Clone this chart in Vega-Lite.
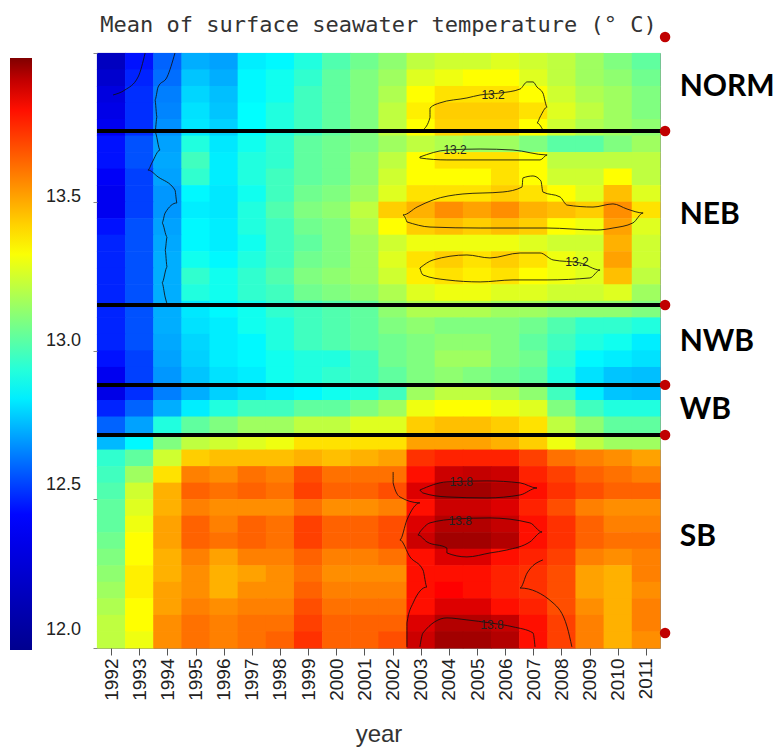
{
"$schema":"https://vega.github.io/schema/vega-lite/v6.json",
"width":563,"height":595,
"autosize":{"type":"none"},
"padding":{"left":97,"top":53,"right":121,"bottom":107},
"background":"white",
"config":{"view":{"stroke":"#8a8a8a","strokeWidth":1},"axis":{"grid":false}},
"title":{"text":"Mean of surface seawater temperature (° C)","font":"DejaVu Sans Mono","fontSize":22,"fontWeight":"normal","color":"#333333","frame":"group","anchor":"middle","offset":-5},
"datasets":{
"sst":[
{"year":1992,"row":0,"sst":12.13},{"year":1993,"row":0,"sst":12.42},{"year":1994,"row":0,"sst":12.56},{"year":1995,"row":0,"sst":12.69},{"year":1996,"row":0,"sst":12.67},{"year":1997,"row":0,"sst":12.80},{"year":1998,"row":0,"sst":12.82},{"year":1999,"row":0,"sst":12.89},{"year":2000,"row":0,"sst":12.98},{"year":2001,"row":0,"sst":13.04},{"year":2002,"row":0,"sst":13.10},{"year":2003,"row":0,"sst":13.19},{"year":2004,"row":0,"sst":13.22},{"year":2005,"row":0,"sst":13.22},{"year":2006,"row":0,"sst":13.25},{"year":2007,"row":0,"sst":13.22},{"year":2008,"row":0,"sst":13.19},{"year":2009,"row":0,"sst":13.13},{"year":2010,"row":0,"sst":13.07},{"year":2011,"row":0,"sst":13.01},
{"year":1992,"row":1,"sst":12.19},{"year":1993,"row":1,"sst":12.45},{"year":1994,"row":1,"sst":12.58},{"year":1995,"row":1,"sst":12.73},{"year":1996,"row":1,"sst":12.69},{"year":1997,"row":1,"sst":12.82},{"year":1998,"row":1,"sst":12.86},{"year":1999,"row":1,"sst":12.92},{"year":2000,"row":1,"sst":13.01},{"year":2001,"row":1,"sst":13.07},{"year":2002,"row":1,"sst":13.13},{"year":2003,"row":1,"sst":13.25},{"year":2004,"row":1,"sst":13.28},{"year":2005,"row":1,"sst":13.31},{"year":2006,"row":1,"sst":13.31},{"year":2007,"row":1,"sst":13.25},{"year":2008,"row":1,"sst":13.19},{"year":2009,"row":1,"sst":13.13},{"year":2010,"row":1,"sst":13.10},{"year":2011,"row":1,"sst":13.04},
{"year":1992,"row":2,"sst":12.26},{"year":1993,"row":2,"sst":12.47},{"year":1994,"row":2,"sst":12.61},{"year":1995,"row":2,"sst":12.76},{"year":1996,"row":2,"sst":12.72},{"year":1997,"row":2,"sst":12.82},{"year":1998,"row":2,"sst":12.86},{"year":1999,"row":2,"sst":12.95},{"year":2000,"row":2,"sst":13.01},{"year":2001,"row":2,"sst":13.07},{"year":2002,"row":2,"sst":13.16},{"year":2003,"row":2,"sst":13.31},{"year":2004,"row":2,"sst":13.37},{"year":2005,"row":2,"sst":13.37},{"year":2006,"row":2,"sst":13.37},{"year":2007,"row":2,"sst":13.31},{"year":2008,"row":2,"sst":13.22},{"year":2009,"row":2,"sst":13.16},{"year":2010,"row":2,"sst":13.13},{"year":2011,"row":2,"sst":13.07},
{"year":1992,"row":3,"sst":12.29},{"year":1993,"row":3,"sst":12.47},{"year":1994,"row":3,"sst":12.62},{"year":1995,"row":3,"sst":12.78},{"year":1996,"row":3,"sst":12.73},{"year":1997,"row":3,"sst":12.83},{"year":1998,"row":3,"sst":12.89},{"year":1999,"row":3,"sst":12.95},{"year":2000,"row":3,"sst":13.01},{"year":2001,"row":3,"sst":13.07},{"year":2002,"row":3,"sst":13.19},{"year":2003,"row":3,"sst":13.34},{"year":2004,"row":3,"sst":13.41},{"year":2005,"row":3,"sst":13.41},{"year":2006,"row":3,"sst":13.41},{"year":2007,"row":3,"sst":13.37},{"year":2008,"row":3,"sst":13.25},{"year":2009,"row":3,"sst":13.19},{"year":2010,"row":3,"sst":13.13},{"year":2011,"row":3,"sst":13.07},
{"year":1992,"row":4,"sst":12.33},{"year":1993,"row":4,"sst":12.47},{"year":1994,"row":4,"sst":12.64},{"year":1995,"row":4,"sst":12.79},{"year":1996,"row":4,"sst":12.75},{"year":1997,"row":4,"sst":12.83},{"year":1998,"row":4,"sst":12.89},{"year":1999,"row":4,"sst":12.95},{"year":2000,"row":4,"sst":13.01},{"year":2001,"row":4,"sst":13.07},{"year":2002,"row":4,"sst":13.19},{"year":2003,"row":4,"sst":13.31},{"year":2004,"row":4,"sst":13.40},{"year":2005,"row":4,"sst":13.40},{"year":2006,"row":4,"sst":13.40},{"year":2007,"row":4,"sst":13.31},{"year":2008,"row":4,"sst":13.22},{"year":2009,"row":4,"sst":13.16},{"year":2010,"row":4,"sst":13.13},{"year":2011,"row":4,"sst":13.10},
{"year":1992,"row":5,"sst":12.42},{"year":1993,"row":5,"sst":12.53},{"year":1994,"row":5,"sst":12.67},{"year":1995,"row":5,"sst":12.89},{"year":1996,"row":5,"sst":12.79},{"year":1997,"row":5,"sst":12.86},{"year":1998,"row":5,"sst":12.92},{"year":1999,"row":5,"sst":13.01},{"year":2000,"row":5,"sst":13.04},{"year":2001,"row":5,"sst":13.07},{"year":2002,"row":5,"sst":13.13},{"year":2003,"row":5,"sst":13.19},{"year":2004,"row":5,"sst":13.16},{"year":2005,"row":5,"sst":13.13},{"year":2006,"row":5,"sst":13.13},{"year":2007,"row":5,"sst":13.07},{"year":2008,"row":5,"sst":13.00},{"year":2009,"row":5,"sst":13.00},{"year":2010,"row":5,"sst":13.07},{"year":2011,"row":5,"sst":13.13},
{"year":1992,"row":6,"sst":12.42},{"year":1993,"row":6,"sst":12.53},{"year":1994,"row":6,"sst":12.68},{"year":1995,"row":6,"sst":12.95},{"year":1996,"row":6,"sst":12.80},{"year":1997,"row":6,"sst":12.89},{"year":1998,"row":6,"sst":12.92},{"year":1999,"row":6,"sst":13.01},{"year":2000,"row":6,"sst":13.04},{"year":2001,"row":6,"sst":13.10},{"year":2002,"row":6,"sst":13.19},{"year":2003,"row":6,"sst":13.31},{"year":2004,"row":6,"sst":13.37},{"year":2005,"row":6,"sst":13.37},{"year":2006,"row":6,"sst":13.37},{"year":2007,"row":6,"sst":13.31},{"year":2008,"row":6,"sst":13.19},{"year":2009,"row":6,"sst":13.19},{"year":2010,"row":6,"sst":13.19},{"year":2011,"row":6,"sst":13.19},
{"year":1992,"row":7,"sst":12.36},{"year":1993,"row":7,"sst":12.50},{"year":1994,"row":7,"sst":12.67},{"year":1995,"row":7,"sst":12.92},{"year":1996,"row":7,"sst":12.80},{"year":1997,"row":7,"sst":12.89},{"year":1998,"row":7,"sst":12.95},{"year":1999,"row":7,"sst":13.01},{"year":2000,"row":7,"sst":13.04},{"year":2001,"row":7,"sst":13.10},{"year":2002,"row":7,"sst":13.22},{"year":2003,"row":7,"sst":13.31},{"year":2004,"row":7,"sst":13.31},{"year":2005,"row":7,"sst":13.31},{"year":2006,"row":7,"sst":13.37},{"year":2007,"row":7,"sst":13.31},{"year":2008,"row":7,"sst":13.22},{"year":2009,"row":7,"sst":13.22},{"year":2010,"row":7,"sst":13.31},{"year":2011,"row":7,"sst":13.19},
{"year":1992,"row":8,"sst":12.33},{"year":1993,"row":8,"sst":12.50},{"year":1994,"row":8,"sst":12.65},{"year":1995,"row":8,"sst":12.82},{"year":1996,"row":8,"sst":12.79},{"year":1997,"row":8,"sst":12.86},{"year":1998,"row":8,"sst":12.95},{"year":1999,"row":8,"sst":13.04},{"year":2000,"row":8,"sst":13.07},{"year":2001,"row":8,"sst":13.13},{"year":2002,"row":8,"sst":13.25},{"year":2003,"row":8,"sst":13.37},{"year":2004,"row":8,"sst":13.37},{"year":2005,"row":8,"sst":13.37},{"year":2006,"row":8,"sst":13.41},{"year":2007,"row":8,"sst":13.37},{"year":2008,"row":8,"sst":13.31},{"year":2009,"row":8,"sst":13.25},{"year":2010,"row":8,"sst":13.44},{"year":2011,"row":8,"sst":13.25},
{"year":1992,"row":9,"sst":12.33},{"year":1993,"row":9,"sst":12.50},{"year":1994,"row":9,"sst":12.65},{"year":1995,"row":9,"sst":12.80},{"year":1996,"row":9,"sst":12.79},{"year":1997,"row":9,"sst":12.89},{"year":1998,"row":9,"sst":12.98},{"year":1999,"row":9,"sst":13.07},{"year":2000,"row":9,"sst":13.10},{"year":2001,"row":9,"sst":13.19},{"year":2002,"row":9,"sst":13.41},{"year":2003,"row":9,"sst":13.47},{"year":2004,"row":9,"sst":13.54},{"year":2005,"row":9,"sst":13.50},{"year":2006,"row":9,"sst":13.54},{"year":2007,"row":9,"sst":13.47},{"year":2008,"row":9,"sst":13.44},{"year":2009,"row":9,"sst":13.41},{"year":2010,"row":9,"sst":13.54},{"year":2011,"row":9,"sst":13.37},
{"year":1992,"row":10,"sst":12.42},{"year":1993,"row":10,"sst":12.53},{"year":1994,"row":10,"sst":12.67},{"year":1995,"row":10,"sst":12.82},{"year":1996,"row":10,"sst":12.80},{"year":1997,"row":10,"sst":12.89},{"year":1998,"row":10,"sst":12.95},{"year":1999,"row":10,"sst":13.04},{"year":2000,"row":10,"sst":13.07},{"year":2001,"row":10,"sst":13.16},{"year":2002,"row":10,"sst":13.31},{"year":2003,"row":10,"sst":13.41},{"year":2004,"row":10,"sst":13.44},{"year":2005,"row":10,"sst":13.41},{"year":2006,"row":10,"sst":13.44},{"year":2007,"row":10,"sst":13.41},{"year":2008,"row":10,"sst":13.31},{"year":2009,"row":10,"sst":13.28},{"year":2010,"row":10,"sst":13.50},{"year":2011,"row":10,"sst":13.25},
{"year":1992,"row":11,"sst":12.45},{"year":1993,"row":11,"sst":12.53},{"year":1994,"row":11,"sst":12.68},{"year":1995,"row":11,"sst":12.82},{"year":1996,"row":11,"sst":12.80},{"year":1997,"row":11,"sst":12.86},{"year":1998,"row":11,"sst":12.95},{"year":1999,"row":11,"sst":13.01},{"year":2000,"row":11,"sst":13.07},{"year":2001,"row":11,"sst":13.13},{"year":2002,"row":11,"sst":13.22},{"year":2003,"row":11,"sst":13.28},{"year":2004,"row":11,"sst":13.28},{"year":2005,"row":11,"sst":13.28},{"year":2006,"row":11,"sst":13.28},{"year":2007,"row":11,"sst":13.25},{"year":2008,"row":11,"sst":13.22},{"year":2009,"row":11,"sst":13.22},{"year":2010,"row":11,"sst":13.47},{"year":2011,"row":11,"sst":13.22},
{"year":1992,"row":12,"sst":12.45},{"year":1993,"row":12,"sst":12.53},{"year":1994,"row":12,"sst":12.69},{"year":1995,"row":12,"sst":12.86},{"year":1996,"row":12,"sst":12.82},{"year":1997,"row":12,"sst":12.89},{"year":1998,"row":12,"sst":12.95},{"year":1999,"row":12,"sst":13.04},{"year":2000,"row":12,"sst":13.07},{"year":2001,"row":12,"sst":13.13},{"year":2002,"row":12,"sst":13.25},{"year":2003,"row":12,"sst":13.37},{"year":2004,"row":12,"sst":13.41},{"year":2005,"row":12,"sst":13.37},{"year":2006,"row":12,"sst":13.41},{"year":2007,"row":12,"sst":13.37},{"year":2008,"row":12,"sst":13.28},{"year":2009,"row":12,"sst":13.25},{"year":2010,"row":12,"sst":13.50},{"year":2011,"row":12,"sst":13.22},
{"year":1992,"row":13,"sst":12.45},{"year":1993,"row":13,"sst":12.53},{"year":1994,"row":13,"sst":12.69},{"year":1995,"row":13,"sst":12.92},{"year":1996,"row":13,"sst":12.86},{"year":1997,"row":13,"sst":12.92},{"year":1998,"row":13,"sst":12.98},{"year":1999,"row":13,"sst":13.07},{"year":2000,"row":13,"sst":13.10},{"year":2001,"row":13,"sst":13.13},{"year":2002,"row":13,"sst":13.22},{"year":2003,"row":13,"sst":13.34},{"year":2004,"row":13,"sst":13.37},{"year":2005,"row":13,"sst":13.34},{"year":2006,"row":13,"sst":13.37},{"year":2007,"row":13,"sst":13.31},{"year":2008,"row":13,"sst":13.28},{"year":2009,"row":13,"sst":13.25},{"year":2010,"row":13,"sst":13.44},{"year":2011,"row":13,"sst":13.19},
{"year":1992,"row":14,"sst":12.45},{"year":1993,"row":14,"sst":12.53},{"year":1994,"row":14,"sst":12.69},{"year":1995,"row":14,"sst":12.89},{"year":1996,"row":14,"sst":12.86},{"year":1997,"row":14,"sst":12.92},{"year":1998,"row":14,"sst":12.95},{"year":1999,"row":14,"sst":13.04},{"year":2000,"row":14,"sst":13.07},{"year":2001,"row":14,"sst":13.10},{"year":2002,"row":14,"sst":13.16},{"year":2003,"row":14,"sst":13.25},{"year":2004,"row":14,"sst":13.28},{"year":2005,"row":14,"sst":13.28},{"year":2006,"row":14,"sst":13.25},{"year":2007,"row":14,"sst":13.25},{"year":2008,"row":14,"sst":13.22},{"year":2009,"row":14,"sst":13.22},{"year":2010,"row":14,"sst":13.25},{"year":2011,"row":14,"sst":13.13},
{"year":1992,"row":15,"sst":12.45},{"year":1993,"row":15,"sst":12.53},{"year":1994,"row":15,"sst":12.69},{"year":1995,"row":15,"sst":12.79},{"year":1996,"row":15,"sst":12.82},{"year":1997,"row":15,"sst":12.86},{"year":1998,"row":15,"sst":12.92},{"year":1999,"row":15,"sst":12.95},{"year":2000,"row":15,"sst":12.98},{"year":2001,"row":15,"sst":13.01},{"year":2002,"row":15,"sst":13.10},{"year":2003,"row":15,"sst":13.16},{"year":2004,"row":15,"sst":13.16},{"year":2005,"row":15,"sst":13.16},{"year":2006,"row":15,"sst":13.13},{"year":2007,"row":15,"sst":13.13},{"year":2008,"row":15,"sst":13.10},{"year":2009,"row":15,"sst":13.10},{"year":2010,"row":15,"sst":13.10},{"year":2011,"row":15,"sst":13.07},
{"year":1992,"row":16,"sst":12.45},{"year":1993,"row":16,"sst":12.53},{"year":1994,"row":16,"sst":12.69},{"year":1995,"row":16,"sst":12.78},{"year":1996,"row":16,"sst":12.80},{"year":1997,"row":16,"sst":12.86},{"year":1998,"row":16,"sst":12.89},{"year":1999,"row":16,"sst":12.95},{"year":2000,"row":16,"sst":12.98},{"year":2001,"row":16,"sst":13.01},{"year":2002,"row":16,"sst":13.07},{"year":2003,"row":16,"sst":13.10},{"year":2004,"row":16,"sst":13.07},{"year":2005,"row":16,"sst":13.07},{"year":2006,"row":16,"sst":13.07},{"year":2007,"row":16,"sst":13.04},{"year":2008,"row":16,"sst":12.98},{"year":2009,"row":16,"sst":12.92},{"year":2010,"row":16,"sst":12.92},{"year":2011,"row":16,"sst":12.89},
{"year":1992,"row":17,"sst":12.45},{"year":1993,"row":17,"sst":12.53},{"year":1994,"row":17,"sst":12.68},{"year":1995,"row":17,"sst":12.76},{"year":1996,"row":17,"sst":12.80},{"year":1997,"row":17,"sst":12.82},{"year":1998,"row":17,"sst":12.89},{"year":1999,"row":17,"sst":12.95},{"year":2000,"row":17,"sst":12.98},{"year":2001,"row":17,"sst":13.01},{"year":2002,"row":17,"sst":13.04},{"year":2003,"row":17,"sst":13.07},{"year":2004,"row":17,"sst":13.10},{"year":2005,"row":17,"sst":13.10},{"year":2006,"row":17,"sst":13.07},{"year":2007,"row":17,"sst":13.01},{"year":2008,"row":17,"sst":12.95},{"year":2009,"row":17,"sst":12.89},{"year":2010,"row":17,"sst":12.86},{"year":2011,"row":17,"sst":12.80},
{"year":1992,"row":18,"sst":12.42},{"year":1993,"row":18,"sst":12.50},{"year":1994,"row":18,"sst":12.67},{"year":1995,"row":18,"sst":12.75},{"year":1996,"row":18,"sst":12.80},{"year":1997,"row":18,"sst":12.82},{"year":1998,"row":18,"sst":12.86},{"year":1999,"row":18,"sst":12.89},{"year":2000,"row":18,"sst":12.89},{"year":2001,"row":18,"sst":12.95},{"year":2002,"row":18,"sst":13.04},{"year":2003,"row":18,"sst":13.07},{"year":2004,"row":18,"sst":13.13},{"year":2005,"row":18,"sst":13.13},{"year":2006,"row":18,"sst":13.07},{"year":2007,"row":18,"sst":13.04},{"year":2008,"row":18,"sst":12.92},{"year":2009,"row":18,"sst":12.82},{"year":2010,"row":18,"sst":12.80},{"year":2011,"row":18,"sst":12.78},
{"year":1992,"row":19,"sst":12.33},{"year":1993,"row":19,"sst":12.50},{"year":1994,"row":19,"sst":12.65},{"year":1995,"row":19,"sst":12.73},{"year":1996,"row":19,"sst":12.78},{"year":1997,"row":19,"sst":12.80},{"year":1998,"row":19,"sst":12.86},{"year":1999,"row":19,"sst":12.89},{"year":2000,"row":19,"sst":12.92},{"year":2001,"row":19,"sst":12.95},{"year":2002,"row":19,"sst":13.01},{"year":2003,"row":19,"sst":13.07},{"year":2004,"row":19,"sst":13.10},{"year":2005,"row":19,"sst":13.07},{"year":2006,"row":19,"sst":13.04},{"year":2007,"row":19,"sst":13.01},{"year":2008,"row":19,"sst":12.89},{"year":2009,"row":19,"sst":12.78},{"year":2010,"row":19,"sst":12.73},{"year":2011,"row":19,"sst":12.72},
{"year":1992,"row":20,"sst":12.29},{"year":1993,"row":20,"sst":12.47},{"year":1994,"row":20,"sst":12.61},{"year":1995,"row":20,"sst":12.69},{"year":1996,"row":20,"sst":12.75},{"year":1997,"row":20,"sst":12.78},{"year":1998,"row":20,"sst":12.80},{"year":1999,"row":20,"sst":12.82},{"year":2000,"row":20,"sst":12.86},{"year":2001,"row":20,"sst":12.89},{"year":2002,"row":20,"sst":12.95},{"year":2003,"row":20,"sst":13.13},{"year":2004,"row":20,"sst":13.19},{"year":2005,"row":20,"sst":13.19},{"year":2006,"row":20,"sst":13.16},{"year":2007,"row":20,"sst":13.10},{"year":2008,"row":20,"sst":12.95},{"year":2009,"row":20,"sst":12.80},{"year":2010,"row":20,"sst":12.73},{"year":2011,"row":20,"sst":12.72},
{"year":1992,"row":21,"sst":12.45},{"year":1993,"row":21,"sst":12.56},{"year":1994,"row":21,"sst":12.69},{"year":1995,"row":21,"sst":12.80},{"year":1996,"row":21,"sst":12.89},{"year":1997,"row":21,"sst":12.95},{"year":1998,"row":21,"sst":12.95},{"year":1999,"row":21,"sst":13.01},{"year":2000,"row":21,"sst":13.01},{"year":2001,"row":21,"sst":13.07},{"year":2002,"row":21,"sst":13.13},{"year":2003,"row":21,"sst":13.28},{"year":2004,"row":21,"sst":13.31},{"year":2005,"row":21,"sst":13.31},{"year":2006,"row":21,"sst":13.28},{"year":2007,"row":21,"sst":13.25},{"year":2008,"row":21,"sst":13.07},{"year":2009,"row":21,"sst":12.95},{"year":2010,"row":21,"sst":12.89},{"year":2011,"row":21,"sst":12.89},
{"year":1992,"row":22,"sst":12.56},{"year":1993,"row":22,"sst":12.67},{"year":1994,"row":22,"sst":12.89},{"year":1995,"row":22,"sst":13.01},{"year":1996,"row":22,"sst":13.07},{"year":1997,"row":22,"sst":13.13},{"year":1998,"row":22,"sst":13.13},{"year":1999,"row":22,"sst":13.19},{"year":2000,"row":22,"sst":13.19},{"year":2001,"row":22,"sst":13.25},{"year":2002,"row":22,"sst":13.25},{"year":2003,"row":22,"sst":13.41},{"year":2004,"row":22,"sst":13.44},{"year":2005,"row":22,"sst":13.44},{"year":2006,"row":22,"sst":13.41},{"year":2007,"row":22,"sst":13.37},{"year":2008,"row":22,"sst":13.19},{"year":2009,"row":22,"sst":13.10},{"year":2010,"row":22,"sst":13.01},{"year":2011,"row":22,"sst":13.01},
{"year":1992,"row":23,"sst":12.71},{"year":1993,"row":23,"sst":12.82},{"year":1994,"row":23,"sst":13.07},{"year":1995,"row":23,"sst":13.19},{"year":1996,"row":23,"sst":13.22},{"year":1997,"row":23,"sst":13.25},{"year":1998,"row":23,"sst":13.28},{"year":1999,"row":23,"sst":13.37},{"year":2000,"row":23,"sst":13.37},{"year":2001,"row":23,"sst":13.37},{"year":2002,"row":23,"sst":13.37},{"year":2003,"row":23,"sst":13.50},{"year":2004,"row":23,"sst":13.50},{"year":2005,"row":23,"sst":13.50},{"year":2006,"row":23,"sst":13.47},{"year":2007,"row":23,"sst":13.41},{"year":2008,"row":23,"sst":13.28},{"year":2009,"row":23,"sst":13.19},{"year":2010,"row":23,"sst":13.13},{"year":2011,"row":23,"sst":13.13},
{"year":1992,"row":24,"sst":12.92},{"year":1993,"row":24,"sst":13.01},{"year":1994,"row":24,"sst":13.22},{"year":1995,"row":24,"sst":13.41},{"year":1996,"row":24,"sst":13.44},{"year":1997,"row":24,"sst":13.44},{"year":1998,"row":24,"sst":13.44},{"year":1999,"row":24,"sst":13.47},{"year":2000,"row":24,"sst":13.44},{"year":2001,"row":24,"sst":13.47},{"year":2002,"row":24,"sst":13.50},{"year":2003,"row":24,"sst":13.73},{"year":2004,"row":24,"sst":13.76},{"year":2005,"row":24,"sst":13.76},{"year":2006,"row":24,"sst":13.76},{"year":2007,"row":24,"sst":13.70},{"year":2008,"row":24,"sst":13.60},{"year":2009,"row":24,"sst":13.57},{"year":2010,"row":24,"sst":13.54},{"year":2011,"row":24,"sst":13.50},
{"year":1992,"row":25,"sst":12.95},{"year":1993,"row":25,"sst":13.13},{"year":1994,"row":25,"sst":13.37},{"year":1995,"row":25,"sst":13.57},{"year":1996,"row":25,"sst":13.54},{"year":1997,"row":25,"sst":13.60},{"year":1998,"row":25,"sst":13.57},{"year":1999,"row":25,"sst":13.67},{"year":2000,"row":25,"sst":13.60},{"year":2001,"row":25,"sst":13.60},{"year":2002,"row":25,"sst":13.60},{"year":2003,"row":25,"sst":13.80},{"year":2004,"row":25,"sst":13.89},{"year":2005,"row":25,"sst":13.90},{"year":2006,"row":25,"sst":13.89},{"year":2007,"row":25,"sst":13.76},{"year":2008,"row":25,"sst":13.70},{"year":2009,"row":25,"sst":13.63},{"year":2010,"row":25,"sst":13.60},{"year":2011,"row":25,"sst":13.57},
{"year":1992,"row":26,"sst":12.98},{"year":1993,"row":26,"sst":13.22},{"year":1994,"row":26,"sst":13.47},{"year":1995,"row":26,"sst":13.63},{"year":1996,"row":26,"sst":13.60},{"year":1997,"row":26,"sst":13.63},{"year":1998,"row":26,"sst":13.60},{"year":1999,"row":26,"sst":13.70},{"year":2000,"row":26,"sst":13.63},{"year":2001,"row":26,"sst":13.63},{"year":2002,"row":26,"sst":13.67},{"year":2003,"row":26,"sst":13.87},{"year":2004,"row":26,"sst":13.94},{"year":2005,"row":26,"sst":13.94},{"year":2006,"row":26,"sst":13.92},{"year":2007,"row":26,"sst":13.80},{"year":2008,"row":26,"sst":13.73},{"year":2009,"row":26,"sst":13.67},{"year":2010,"row":26,"sst":13.63},{"year":2011,"row":26,"sst":13.63},
{"year":1992,"row":27,"sst":13.01},{"year":1993,"row":27,"sst":13.25},{"year":1994,"row":27,"sst":13.47},{"year":1995,"row":27,"sst":13.57},{"year":1996,"row":27,"sst":13.54},{"year":1997,"row":27,"sst":13.54},{"year":1998,"row":27,"sst":13.54},{"year":1999,"row":27,"sst":13.60},{"year":2000,"row":27,"sst":13.54},{"year":2001,"row":27,"sst":13.54},{"year":2002,"row":27,"sst":13.57},{"year":2003,"row":27,"sst":13.80},{"year":2004,"row":27,"sst":13.89},{"year":2005,"row":27,"sst":13.89},{"year":2006,"row":27,"sst":13.87},{"year":2007,"row":27,"sst":13.76},{"year":2008,"row":27,"sst":13.67},{"year":2009,"row":27,"sst":13.57},{"year":2010,"row":27,"sst":13.54},{"year":2011,"row":27,"sst":13.54},
{"year":1992,"row":28,"sst":13.01},{"year":1993,"row":28,"sst":13.28},{"year":1994,"row":28,"sst":13.50},{"year":1995,"row":28,"sst":13.63},{"year":1996,"row":28,"sst":13.57},{"year":1997,"row":28,"sst":13.63},{"year":1998,"row":28,"sst":13.60},{"year":1999,"row":28,"sst":13.70},{"year":2000,"row":28,"sst":13.63},{"year":2001,"row":28,"sst":13.63},{"year":2002,"row":28,"sst":13.67},{"year":2003,"row":28,"sst":13.87},{"year":2004,"row":28,"sst":13.92},{"year":2005,"row":28,"sst":13.92},{"year":2006,"row":28,"sst":13.90},{"year":2007,"row":28,"sst":13.80},{"year":2008,"row":28,"sst":13.73},{"year":2009,"row":28,"sst":13.63},{"year":2010,"row":28,"sst":13.57},{"year":2011,"row":28,"sst":13.57},
{"year":1992,"row":29,"sst":13.04},{"year":1993,"row":29,"sst":13.31},{"year":1994,"row":29,"sst":13.50},{"year":1995,"row":29,"sst":13.63},{"year":1996,"row":29,"sst":13.60},{"year":1997,"row":29,"sst":13.63},{"year":1998,"row":29,"sst":13.60},{"year":1999,"row":29,"sst":13.70},{"year":2000,"row":29,"sst":13.63},{"year":2001,"row":29,"sst":13.63},{"year":2002,"row":29,"sst":13.67},{"year":2003,"row":29,"sst":13.89},{"year":2004,"row":29,"sst":13.94},{"year":2005,"row":29,"sst":13.94},{"year":2006,"row":29,"sst":13.92},{"year":2007,"row":29,"sst":13.80},{"year":2008,"row":29,"sst":13.73},{"year":2009,"row":29,"sst":13.63},{"year":2010,"row":29,"sst":13.60},{"year":2011,"row":29,"sst":13.60},
{"year":1992,"row":30,"sst":13.07},{"year":1993,"row":30,"sst":13.31},{"year":1994,"row":30,"sst":13.47},{"year":1995,"row":30,"sst":13.57},{"year":1996,"row":30,"sst":13.50},{"year":1997,"row":30,"sst":13.57},{"year":1998,"row":30,"sst":13.57},{"year":1999,"row":30,"sst":13.63},{"year":2000,"row":30,"sst":13.57},{"year":2001,"row":30,"sst":13.57},{"year":2002,"row":30,"sst":13.60},{"year":2003,"row":30,"sst":13.80},{"year":2004,"row":30,"sst":13.87},{"year":2005,"row":30,"sst":13.87},{"year":2006,"row":30,"sst":13.80},{"year":2007,"row":30,"sst":13.76},{"year":2008,"row":30,"sst":13.70},{"year":2009,"row":30,"sst":13.57},{"year":2010,"row":30,"sst":13.54},{"year":2011,"row":30,"sst":13.57},
{"year":1992,"row":31,"sst":13.10},{"year":1993,"row":31,"sst":13.34},{"year":1994,"row":31,"sst":13.47},{"year":1995,"row":31,"sst":13.54},{"year":1996,"row":31,"sst":13.47},{"year":1997,"row":31,"sst":13.50},{"year":1998,"row":31,"sst":13.54},{"year":1999,"row":31,"sst":13.60},{"year":2000,"row":31,"sst":13.54},{"year":2001,"row":31,"sst":13.54},{"year":2002,"row":31,"sst":13.54},{"year":2003,"row":31,"sst":13.80},{"year":2004,"row":31,"sst":13.80},{"year":2005,"row":31,"sst":13.80},{"year":2006,"row":31,"sst":13.76},{"year":2007,"row":31,"sst":13.73},{"year":2008,"row":31,"sst":13.67},{"year":2009,"row":31,"sst":13.50},{"year":2010,"row":31,"sst":13.47},{"year":2011,"row":31,"sst":13.57},
{"year":1992,"row":32,"sst":13.13},{"year":1993,"row":32,"sst":13.34},{"year":1994,"row":32,"sst":13.50},{"year":1995,"row":32,"sst":13.54},{"year":1996,"row":32,"sst":13.47},{"year":1997,"row":32,"sst":13.54},{"year":1998,"row":32,"sst":13.54},{"year":1999,"row":32,"sst":13.63},{"year":2000,"row":32,"sst":13.57},{"year":2001,"row":32,"sst":13.57},{"year":2002,"row":32,"sst":13.57},{"year":2003,"row":32,"sst":13.80},{"year":2004,"row":32,"sst":13.83},{"year":2005,"row":32,"sst":13.80},{"year":2006,"row":32,"sst":13.76},{"year":2007,"row":32,"sst":13.73},{"year":2008,"row":32,"sst":13.67},{"year":2009,"row":32,"sst":13.50},{"year":2010,"row":32,"sst":13.47},{"year":2011,"row":32,"sst":13.54},
{"year":1992,"row":33,"sst":13.16},{"year":1993,"row":33,"sst":13.31},{"year":1994,"row":33,"sst":13.50},{"year":1995,"row":33,"sst":13.57},{"year":1996,"row":33,"sst":13.54},{"year":1997,"row":33,"sst":13.57},{"year":1998,"row":33,"sst":13.57},{"year":1999,"row":33,"sst":13.67},{"year":2000,"row":33,"sst":13.60},{"year":2001,"row":33,"sst":13.60},{"year":2002,"row":33,"sst":13.60},{"year":2003,"row":33,"sst":13.80},{"year":2004,"row":33,"sst":13.87},{"year":2005,"row":33,"sst":13.87},{"year":2006,"row":33,"sst":13.80},{"year":2007,"row":33,"sst":13.76},{"year":2008,"row":33,"sst":13.67},{"year":2009,"row":33,"sst":13.54},{"year":2010,"row":33,"sst":13.47},{"year":2011,"row":33,"sst":13.57},
{"year":1992,"row":34,"sst":13.19},{"year":1993,"row":34,"sst":13.31},{"year":1994,"row":34,"sst":13.54},{"year":1995,"row":34,"sst":13.60},{"year":1996,"row":34,"sst":13.57},{"year":1997,"row":34,"sst":13.60},{"year":1998,"row":34,"sst":13.60},{"year":1999,"row":34,"sst":13.70},{"year":2000,"row":34,"sst":13.63},{"year":2001,"row":34,"sst":13.63},{"year":2002,"row":34,"sst":13.63},{"year":2003,"row":34,"sst":13.87},{"year":2004,"row":34,"sst":13.92},{"year":2005,"row":34,"sst":13.92},{"year":2006,"row":34,"sst":13.90},{"year":2007,"row":34,"sst":13.80},{"year":2008,"row":34,"sst":13.70},{"year":2009,"row":34,"sst":13.57},{"year":2010,"row":34,"sst":13.47},{"year":2011,"row":34,"sst":13.57},
{"year":1992,"row":35,"sst":13.19},{"year":1993,"row":35,"sst":13.28},{"year":1994,"row":35,"sst":13.54},{"year":1995,"row":35,"sst":13.60},{"year":1996,"row":35,"sst":13.57},{"year":1997,"row":35,"sst":13.60},{"year":1998,"row":35,"sst":13.63},{"year":1999,"row":35,"sst":13.73},{"year":2000,"row":35,"sst":13.63},{"year":2001,"row":35,"sst":13.63},{"year":2002,"row":35,"sst":13.67},{"year":2003,"row":35,"sst":13.89},{"year":2004,"row":35,"sst":13.94},{"year":2005,"row":35,"sst":13.94},{"year":2006,"row":35,"sst":13.92},{"year":2007,"row":35,"sst":13.80},{"year":2008,"row":35,"sst":13.70},{"year":2009,"row":35,"sst":13.57},{"year":2010,"row":35,"sst":13.47},{"year":2011,"row":35,"sst":13.54}
],
"contours":[
{"id":"a","i":0,"yr":2003.47,"pos":26.44},{"id":"a","i":1,"yr":2004.43,"pos":25.95},{"id":"a","i":2,"yr":2005.85,"pos":25.89},{"id":"a","i":3,"yr":2007.03,"pos":26.01},{"id":"a","i":4,"yr":2007.63,"pos":26.32},{"id":"a","i":5,"yr":2007.03,"pos":26.74},{"id":"a","i":6,"yr":2005.85,"pos":26.92},{"id":"a","i":7,"yr":2004.43,"pos":26.86},{"id":"a","i":8,"yr":2003.58,"pos":26.62},{"id":"a","i":9,"yr":2003.47,"pos":26.44},
{"id":"b","i":0,"yr":2003.47,"pos":28.98},{"id":"b","i":1,"yr":2003.83,"pos":28.43},{"id":"b","i":2,"yr":2004.79,"pos":28.19},{"id":"b","i":3,"yr":2005.96,"pos":28.13},{"id":"b","i":4,"yr":2007.38,"pos":28.43},{"id":"b","i":5,"yr":2007.81,"pos":28.98},{"id":"b","i":6,"yr":2007.38,"pos":29.58},{"id":"b","i":7,"yr":2006.56,"pos":30.07},{"id":"b","i":8,"yr":2005.96,"pos":30.25},{"id":"b","i":9,"yr":2005.14,"pos":30.49},{"id":"b","i":10,"yr":2004.43,"pos":30.25},{"id":"b","i":11,"yr":2004.43,"pos":29.95},{"id":"b","i":12,"yr":2003.72,"pos":29.58},{"id":"b","i":13,"yr":2003.40,"pos":29.16},{"id":"b","i":14,"yr":2003.47,"pos":28.98},
{"id":"c","i":0,"yr":2003.47,"pos":35.93},{"id":"c","i":1,"yr":2003.58,"pos":35.09},{"id":"c","i":2,"yr":2004.43,"pos":34.18},{"id":"c","i":3,"yr":2005.14,"pos":34.30},{"id":"c","i":4,"yr":2005.96,"pos":34.48},{"id":"c","i":5,"yr":2006.78,"pos":34.72},{"id":"c","i":6,"yr":2007.49,"pos":35.09},{"id":"c","i":7,"yr":2007.56,"pos":35.93},
{"id":"d","i":0,"yr":2003.58,"pos":4.66},{"id":"d","i":1,"yr":2003.83,"pos":3.90},{"id":"d","i":2,"yr":2003.83,"pos":3.33},{"id":"d","i":3,"yr":2004.18,"pos":3.02},{"id":"d","i":4,"yr":2005.14,"pos":2.72},{"id":"d","i":5,"yr":2005.61,"pos":2.54},{"id":"d","i":6,"yr":2006.32,"pos":2.42},{"id":"d","i":7,"yr":2007.03,"pos":2.18},{"id":"d","i":8,"yr":2007.28,"pos":1.75},{"id":"d","i":9,"yr":2007.49,"pos":1.75},{"id":"d","i":10,"yr":2007.63,"pos":2.06},{"id":"d","i":11,"yr":2007.84,"pos":2.42},{"id":"d","i":12,"yr":2007.99,"pos":3.27},{"id":"d","i":13,"yr":2007.74,"pos":3.87},{"id":"d","i":14,"yr":2007.63,"pos":4.23},{"id":"d","i":15,"yr":2007.84,"pos":4.66},
{"id":"e","i":0,"yr":2003.47,"pos":6.29},{"id":"e","i":1,"yr":2004.43,"pos":5.87},{"id":"e","i":2,"yr":2005.61,"pos":5.81},{"id":"e","i":3,"yr":2006.78,"pos":5.87},{"id":"e","i":4,"yr":2007.99,"pos":6.17},{"id":"e","i":5,"yr":2007.74,"pos":6.47},{"id":"e","i":6,"yr":2006.21,"pos":6.47},{"id":"e","i":7,"yr":2004.43,"pos":6.47},{"id":"e","i":8,"yr":2003.47,"pos":6.35},{"id":"e","i":9,"yr":2003.47,"pos":6.29},
{"id":"f","i":0,"yr":2003.01,"pos":10.22},{"id":"f","i":1,"yr":2002.87,"pos":9.80},{"id":"f","i":2,"yr":2003.37,"pos":9.32},{"id":"f","i":3,"yr":2003.94,"pos":8.89},{"id":"f","i":4,"yr":2005.00,"pos":8.53},{"id":"f","i":5,"yr":2006.42,"pos":8.41},{"id":"f","i":6,"yr":2007.10,"pos":8.11},{"id":"f","i":7,"yr":2007.13,"pos":7.56},{"id":"f","i":8,"yr":2007.49,"pos":7.44},{"id":"f","i":9,"yr":2007.77,"pos":7.74},{"id":"f","i":10,"yr":2007.84,"pos":8.41},{"id":"f","i":11,"yr":2008.45,"pos":8.71},{"id":"f","i":12,"yr":2008.70,"pos":9.20},{"id":"f","i":13,"yr":2009.62,"pos":9.32},{"id":"f","i":14,"yr":2010.33,"pos":9.13},{"id":"f","i":15,"yr":2010.83,"pos":9.44},{"id":"f","i":16,"yr":2011.40,"pos":9.68},{"id":"f","i":17,"yr":2011.04,"pos":10.28},{"id":"f","i":18,"yr":2010.33,"pos":10.59},{"id":"f","i":19,"yr":2009.76,"pos":10.71},{"id":"f","i":20,"yr":2007.99,"pos":10.59},{"id":"f","i":21,"yr":2005.61,"pos":10.59},{"id":"f","i":22,"yr":2003.83,"pos":10.53},{"id":"f","i":23,"yr":2003.01,"pos":10.22},
{"id":"g","i":0,"yr":2003.47,"pos":13.01},{"id":"g","i":1,"yr":2003.94,"pos":12.52},{"id":"g","i":2,"yr":2005.14,"pos":12.22},{"id":"g","i":3,"yr":2005.96,"pos":12.40},{"id":"g","i":4,"yr":2007.03,"pos":12.10},{"id":"g","i":5,"yr":2007.74,"pos":12.10},{"id":"g","i":6,"yr":2008.20,"pos":12.52},{"id":"g","i":7,"yr":2009.16,"pos":12.70},{"id":"g","i":8,"yr":2009.87,"pos":13.13},{"id":"g","i":9,"yr":2009.51,"pos":13.61},{"id":"g","i":10,"yr":2007.99,"pos":13.73},{"id":"g","i":11,"yr":2006.78,"pos":13.73},{"id":"g","i":12,"yr":2005.61,"pos":13.85},{"id":"g","i":13,"yr":2004.43,"pos":13.73},{"id":"g","i":14,"yr":2003.58,"pos":13.43},{"id":"g","i":15,"yr":2003.47,"pos":13.01},
{"id":"h","i":0,"yr":1994.77,"pos":0.0},{"id":"h","i":1,"yr":1994.49,"pos":1.45},{"id":"h","i":2,"yr":1994.17,"pos":2.06},{"id":"h","i":3,"yr":1994.06,"pos":2.84},{"id":"h","i":4,"yr":1994.13,"pos":3.87},{"id":"h","i":5,"yr":1994.06,"pos":4.78},{"id":"h","i":6,"yr":1994.24,"pos":5.87},{"id":"h","i":7,"yr":1993.95,"pos":6.65},{"id":"h","i":8,"yr":1993.81,"pos":7.08},{"id":"h","i":9,"yr":1994.17,"pos":7.50},{"id":"h","i":10,"yr":1994.77,"pos":8.29},{"id":"h","i":11,"yr":1994.84,"pos":9.07},{"id":"h","i":12,"yr":1994.42,"pos":9.68},{"id":"h","i":13,"yr":1994.31,"pos":10.28},{"id":"h","i":14,"yr":1994.49,"pos":11.13},{"id":"h","i":15,"yr":1994.42,"pos":11.92},{"id":"h","i":16,"yr":1994.49,"pos":12.95},{"id":"h","i":17,"yr":1994.31,"pos":13.91},{"id":"h","i":18,"yr":1994.42,"pos":14.76},{"id":"h","i":19,"yr":1994.52,"pos":15.37},
{"id":"k","i":0,"yr":1993.71,"pos":0.0},{"id":"k","i":1,"yr":1993.46,"pos":1.45},{"id":"k","i":2,"yr":1992.99,"pos":2.24},{"id":"k","i":3,"yr":1992.57,"pos":2.54},
{"id":"m","i":0,"yr":2002.52,"pos":25.35},{"id":"m","i":1,"yr":2002.52,"pos":26.01},{"id":"m","i":2,"yr":2002.76,"pos":26.86},{"id":"m","i":3,"yr":2003.47,"pos":27.22},{"id":"m","i":4,"yr":2003.01,"pos":28.25},{"id":"m","i":5,"yr":2002.76,"pos":29.46},{"id":"m","i":6,"yr":2003.12,"pos":30.49},{"id":"m","i":7,"yr":2003.58,"pos":31.28},{"id":"m","i":8,"yr":2003.72,"pos":32.31},{"id":"m","i":9,"yr":2003.23,"pos":33.27},{"id":"m","i":10,"yr":2003.01,"pos":34.48},{"id":"m","i":11,"yr":2003.01,"pos":35.93},
{"id":"n","i":0,"yr":2007.84,"pos":30.67},{"id":"n","i":1,"yr":2007.28,"pos":31.46},{"id":"n","i":2,"yr":2007.03,"pos":32.37},{"id":"n","i":3,"yr":2008.20,"pos":33.27},{"id":"n","i":4,"yr":2008.70,"pos":34.72},{"id":"n","i":5,"yr":2008.87,"pos":35.93}
],
"contourLabels":[
{"label":"13.8","yr":2004.94,"pos":25.95},{"label":"13.8","yr":2004.90,"pos":28.31},{"label":"13.8","yr":2006.03,"pos":34.62},{"label":"13.2","yr":2006.07,"pos":2.55},{"label":"13.2","yr":2004.72,"pos":5.85},{"label":"13.2","yr":2009.05,"pos":12.66}
],
"dividers":[{"pos":4.72},{"pos":15.25},{"pos":20.08},{"pos":23.11}],
"markers":[{"pos":-0.97},{"pos":4.72},{"pos":15.25},{"pos":20.08},{"pos":23.11},{"pos":35.09}],
"regions":[{"region":"NORM","mid":2.06},{"region":"NEB","mid":9.8},{"region":"NWB","mid":17.48},{"region":"WB","mid":21.6},{"region":"SB","mid":29.28}]
},
"layer":[
{"data":{"name":"sst"},
 "mark":{"type":"rect","binSpacing":0,"x2Offset":-0.6,"y2Offset":0.6},
 "encoding":{
  "x":{"field":"year","type":"quantitative","bin":{"step":1,"extent":[1992,2012]},"scale":{"domain":[1992,2012]},
   "axis":{"values":[1992.5,1993.5,1994.5,1995.5,1996.5,1997.5,1998.5,1999.5,2000.5,2001.5,2002.5,2003.5,2004.5,2005.5,2006.5,2007.5,2008.5,2009.5,2010.5,2011.5],
    "labelExpr":"floor(datum.value)","labelAngle":270,"labelFont":"Liberation Sans","labelFontSize":19,"labelColor":"#222222","labelPadding":3,"labelFlush":false,"labelOverlap":false,"labelBound":false,
    "tickSize":7,"tickColor":"#555555","domain":false,"grid":false,
    "title":"year","titleFont":"Liberation Sans","titleFontSize":24,"titleFontWeight":"normal","titleColor":"#333333","titlePadding":22}},
  "y":{"field":"row","type":"quantitative","bin":{"step":1,"extent":[0,36]},"scale":{"domain":[0,36],"reverse":true},
   "axis":{"values":[0,9,18,27,36],"labels":false,"title":null,"domain":false,"ticks":true,"tickSize":4,"tickColor":"#888888","grid":false}},
  "color":{"field":"sst","type":"quantitative",
   "scale":{"domain":[11.93,12.39,12.83,13.31,13.83,13.98],"range":["#00008F","#0000FF","#00FFFF","#FFFF00","#FF0000","#800000"],"interpolate":"rgb"},
   "legend":{"orient":"none","legendX":-87,"legendY":5,"direction":"vertical","gradientLength":592,"gradientThickness":22,"gradientStrokeWidth":0,"title":null,
    "values":[12,12.5,13,13.5],"format":".1f","labelFont":"Liberation Sans","labelFontSize":18,"labelColor":"#222222","labelOffset":14}}
 }},
{"data":{"name":"contours"},
 "mark":{"type":"line","color":"#111111","strokeWidth":1,"opacity":0.85,"interpolate":"monotone"},
 "encoding":{"x":{"field":"yr","type":"quantitative","scale":{"domain":[1992,2012]}},"y":{"field":"pos","type":"quantitative","scale":{"domain":[0,36],"reverse":true}},"detail":{"field":"id"},"order":{"field":"i"}}},
{"data":{"name":"contourLabels"},
 "mark":{"type":"text","font":"Liberation Sans","fontSize":12,"color":"#222222","baseline":"middle","align":"center"},
 "encoding":{"x":{"field":"yr","type":"quantitative","scale":{"domain":[1992,2012]}},"y":{"field":"pos","type":"quantitative","scale":{"domain":[0,36],"reverse":true}},"text":{"field":"label"}}},
{"data":{"name":"dividers"},
 "mark":{"type":"rule","color":"black","strokeWidth":4},
 "encoding":{"y":{"field":"pos","type":"quantitative","scale":{"domain":[0,36],"reverse":true}},"x":{"datum":1992},"x2":{"datum":2012.18}}},
{"data":{"name":"markers"},
 "mark":{"type":"point","filled":true,"color":"#C00000","size":110,"opacity":1},
 "encoding":{"y":{"field":"pos","type":"quantitative","scale":{"domain":[0,36],"reverse":true}},"x":{"datum":2012.18}}},
{"data":{"name":"regions"},
 "mark":{"type":"text","font":"Lato","fontWeight":"bold","fontSize":30,"align":"left","baseline":"middle","color":"black"},
 "encoding":{"y":{"field":"mid","type":"quantitative","scale":{"domain":[0,36],"reverse":true}},"x":{"datum":2012.7},"text":{"field":"region"}}}
]
}
